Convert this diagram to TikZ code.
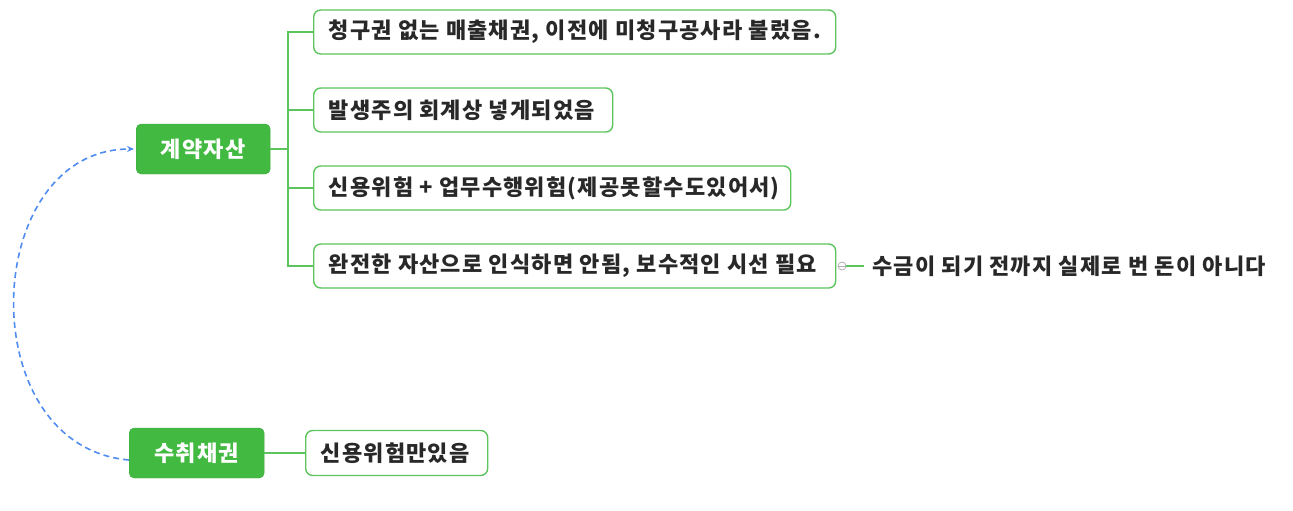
\documentclass[tikz,border=0pt]{standalone}
\usepackage{fontspec}
\setmainfont{Noto Sans CJK KR}[LetterSpace=5.5]
\usetikzlibrary{arrows.meta,positioning}
\definecolor{rootgreen}{RGB}{66,186,66}
\definecolor{linegreen}{RGB}{92,196,92}
\definecolor{txt}{RGB}{40,40,40}
\definecolor{dashblue}{RGB}{80,140,240}
\newcommand{\lbox}[2]{\makebox[#1][l]{#2}}
\begin{document}
\begin{tikzpicture}[x=1pt,y=-1pt,
  rootbox/.style={fill=rootgreen,draw=rootgreen!90!black,rounded corners=5pt,text=white,font=\bfseries\fontsize{22}{24}\selectfont,minimum height=50pt,anchor=west,inner sep=0pt},
  childbox/.style={draw=linegreen,line width=1.4pt,fill=white,rounded corners=7pt,text=txt,font=\bfseries\fontsize{22}{24}\selectfont,minimum height=44pt,anchor=west,inner ysep=0pt,inner xsep=15pt},
  plaintext/.style={text=txt,font=\bfseries\fontsize{22}{24}\selectfont,anchor=west,inner sep=0pt},
  conn/.style={draw=linegreen,line width=1.6pt}]
\useasboundingbox (0,0) rectangle (1293,511);
\node[rootbox,minimum width=134pt] (ka) at (136,149) {계약자산};
\node[childbox] (c1) at (313,32) {\lbox{492pt}{청구권 없는 매출채권, 이전에 미청구공사라 불렀음.}};
\node[childbox] (c2) at (313,110) {\lbox{269pt}{발생주의 회계상 넣게되었음}};
\node[childbox] (c3) at (313,188) {\lbox{447pt}{신용위험 + 업무수행위험(제공못할수도있어서)}};
\node[childbox] (c4) at (313,266) {\lbox{492pt}{완전한 자산으로 인식하면 안됨, 보수적인 시선 필요}};
\coordinate (trunk) at (288,149);
\draw[conn] (ka.east) -- (trunk);
\draw[conn] (c1.west) -| (trunk) |- (c4.west);
\draw[conn] (trunk |- c2.west) -- (c2.west);
\draw[conn] (trunk |- c3.west) -- (c3.west);
\node[draw=gray!60,circle,minimum size=8pt,inner sep=0pt,line width=0.8pt] (dot) at (842,266) {};
\node[plaintext] (note) at (872,266) {수금이 되기 전까지 실제로 번 돈이 아니다};
\draw[conn,line width=1.2pt] (dot.east) -- ([xshift=-8pt]note.west);
\draw[draw=gray!60,line width=0.8pt] (dot.west) -- (dot.east);
\node[rootbox,minimum width=135pt] (sc) at (129,453) {수취채권};
\node[childbox,minimum height=45pt] (s1) at (305,453) {\lbox{152pt}{신용위험만있음}};
\draw[conn] (sc.east) -- (s1.west);
\draw[dashblue,dash pattern=on 6pt off 4pt,line width=1.6pt,-{Stealth[length=7pt,width=6pt]}] ([yshift=-7pt]sc.west) .. controls (-30,446) and (-20,149) .. ([xshift=-2pt]ka.west);
\end{tikzpicture}
\end{document}
